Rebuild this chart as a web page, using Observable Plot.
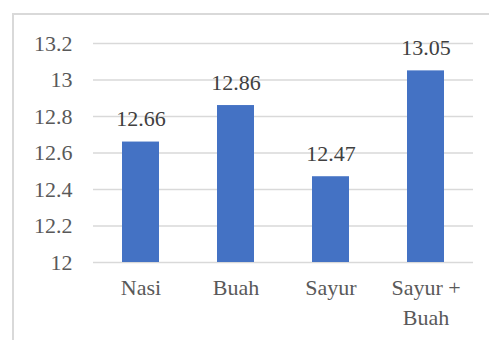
<!DOCTYPE html>
<html>
<head>
<meta charset="utf-8">
<script src="https://cdn.jsdelivr.net/npm/d3@7"></script>
<script src="https://cdn.jsdelivr.net/npm/@observablehq/plot@0.6"></script>
<style>
  html, body { margin: 0; padding: 0; background: #fff; overflow: hidden; }
  #wrap { position: relative; width: 489px; height: 340px; }
  #frame { position: absolute; left: 12px; top: 13px; width: 600px; height: 500px; border: 2px solid #d9d9d9; box-sizing: border-box; pointer-events: none; }
  #chart { position: absolute; left: 0; top: 0; }
  #chart svg, #chart svg text { font-family: "Liberation Serif", "Times New Roman", serif !important; }
</style>
</head>
<body>
<div id="wrap"><div id="chart"></div><div id="frame"></div></div>
<script>
const categories = ["Nasi", "Buah", "Sayur", "Sayur +\nBuah"];
const values = [12.66, 12.86, 12.47, 13.05];
const yTicks = [12, 12.2, 12.4, 12.6, 12.8, 13, 13.2];

const data = categories.map((c, i) => ({category: c, value: values[i]}));

const chart = Plot.plot({
  width: 489,
  height: 340,
  marginLeft: 93,
  marginRight: 16,
  marginTop: 43,
  marginBottom: 78,
  style: {fontFamily: "Liberation Serif", fontSize: "22px", background: "transparent"},
  x: {domain: categories, paddingInner: 0.61, paddingOuter: 0.305, label: null},
  y: {domain: [12, 13.2], label: null},
  marks: [
    Plot.gridY(yTicks, {stroke: "#d9d9d9", strokeOpacity: 1, strokeWidth: 1.5}),
    Plot.rectY(data, {x: "category", y1: 12, y2: "value", fill: "#4472c4"}),
    Plot.text(data, {x: "category", y: "value", text: d => d.value.toFixed(2), dy: -23, fill: "#404040", fontSize: 22}),
    Plot.axisY(yTicks, {tickSize: 0, tickPadding: 21, fill: "#595959", fontSize: 22, tickFormat: d => String(d), label: null}),
    Plot.axisX({tickSize: 0, tickPadding: 12, fill: "#595959", fontSize: 22, label: null, lineHeight: 1.33})
  ]
});
document.getElementById("chart").appendChild(chart);
</script>
</body>
</html>
